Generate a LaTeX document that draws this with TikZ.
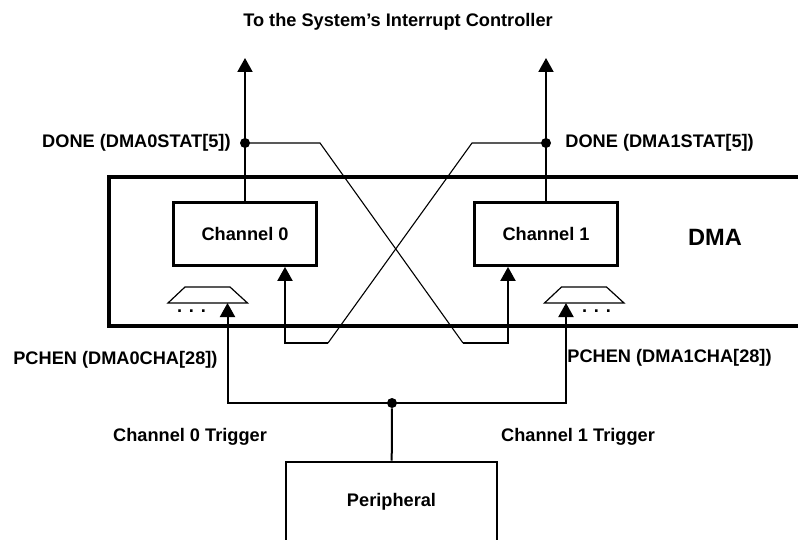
\documentclass[tikz,border=0pt]{standalone}
\usepackage{fontspec}
\setmainfont{Liberation Sans}
\usetikzlibrary{arrows.meta,positioning,calc}

\begin{document}
\begin{tikzpicture}[
    x=0.5pt, y=-0.5pt,
    every node/.style={inner sep=0pt},
    font=\fontsize{9.1}{11}\selectfont\bfseries,
    box/.style={draw, line width=1.4pt},
    muxline/.style={line width=0.6pt, line join=miter},
    junc/.style={circle, fill, minimum size=5pt},
    arr/.style={-{Triangle[length=7pt, width=7.5pt]}, line width=1pt},
    wire/.style={line width=0.55pt}
  ]
    \useasboundingbox (0,0) rectangle (798,540);
    \clip (0,0) rectangle (798,540);

    \node (title) at (398,22) {To the System's Interrupt Controller};

    % DMA block and its channels
    \node[box, line width=1.6pt, minimum width=353pt, minimum height=74.5pt] (dma) at (462,251.5) {};
    \node[font=\fontsize{11.8}{14}\selectfont\bfseries] (dmalbl) at (715,237) {DMA};
    \node[box, minimum width=71.5pt, minimum height=31.5pt] (ch0) at (245,234) {Channel 0};
    \node[box, minimum width=71.5pt, minimum height=31.5pt] (ch1) at (546,234) {Channel 1};

    % trigger muxes
    \coordinate (mux0) at (207.5,303);
    \coordinate (mux1) at (584,303);
    \draw[muxline] ($(mux0)+(-39.5,0)$) -- ++(17,-16) -- ++(45,0) -- ++(17.5,16) -- cycle;
    \draw[muxline] ($(mux1)+(-39.5,0)$) -- ++(17,-16) -- ++(45,0) -- ++(17.5,16) -- cycle;
    \node (dots0) at (191.5,311) {. . .};
    \node (dots1) at (596.5,311) {. . .};

    % interrupt outputs
    \coordinate (out0) at (245,58);
    \coordinate (out1) at (546,58);
    \node[junc] (done0) at (245,143) {};
    \node[junc] (done1) at (546,143) {};
    \node[anchor=east] (done0lbl) at (231,143) {DONE (DMA0STAT[5])};
    \node[anchor=west] (done1lbl) at (565,143) {DONE (DMA1STAT[5])};
    \draw[arr] (ch0.north) -- (out0);
    \draw[arr] (ch1.north) -- (out1);

    % crossed DONE feedback
    \coordinate (bendA) at (320,143);
    \coordinate (footA) at (463,343);
    \coordinate (bendB) at (472,143);
    \coordinate (footB) at (328,343);
    \draw[wire] (done0.center) -- (bendA) -- (footA);
    \draw[wire] (done1.center) -- (bendB) -- (footB);
    \draw[arr] (footA) -| ($(ch1.south)+(-38,0)$);
    \draw[arr] (footB) -| ($(ch0.south)+(40,0)$);

    % peripheral triggers
    \node[junc] (tjoin) at (392,403) {};
    \node[box, minimum width=105.5pt, minimum height=40pt] (periph) at (391.5,502) {Peripheral};
    \draw[line width=1pt] (tjoin) -- (periph);
    \draw[arr] (tjoin.center) -| ($(mux0)+(20,0)$);
    \draw[arr] (tjoin.center) -| ($(mux1)+(-18,0)$);
    \node[anchor=east] (pchen0) at (218,360) {PCHEN (DMA0CHA[28])};
    \node[anchor=west] (pchen1) at (567,358) {PCHEN (DMA1CHA[28])};
    \node (trig0) at (190,437) {Channel 0 Trigger};
    \node (trig1) at (578,437) {Channel 1 Trigger};
\end{tikzpicture}
\end{document}
